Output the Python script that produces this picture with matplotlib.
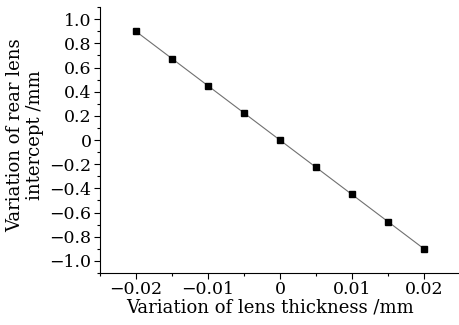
import matplotlib
matplotlib.use("Agg")
from matplotlib import pyplot as plt
from matplotlib.ticker import MultipleLocator, FuncFormatter

thickness = [-0.02, -0.015, -0.01, -0.005, 0.0, 0.005, 0.01, 0.015, 0.02]
intercept = [0.9, 0.675, 0.45, 0.225, 0.0, -0.225, -0.45, -0.675, -0.9]


def fmt_x(v, pos):
    if abs(v) < 1e-9:
        return "0"
    return ("%.2f" % v).replace("-", "\u2212")


def fmt_y(v, pos):
    if abs(v) < 1e-9:
        return "0"
    return ("%.1f" % v).replace("-", "\u2212")


def main():
    plt.rcParams["font.family"] = ["DejaVu Serif"]
    fig = plt.figure(figsize=(4.6, 3.25), dpi=100)
    ax = fig.add_axes([0.217, 0.16, 0.783, 0.818])

    ax.plot(thickness, intercept, color="#707070", linewidth=0.8,
            marker="s", markersize=4.2, markerfacecolor="black",
            markeredgecolor="black", zorder=3)

    ax.set_xlim(-0.025, 0.025)
    ax.set_ylim(-1.1, 1.1)
    ax.xaxis.set_major_locator(MultipleLocator(0.01))
    ax.xaxis.set_minor_locator(MultipleLocator(0.005))
    ax.yaxis.set_major_locator(MultipleLocator(0.2))
    ax.yaxis.set_minor_locator(MultipleLocator(0.1))
    ax.xaxis.set_major_formatter(FuncFormatter(fmt_x))
    ax.yaxis.set_major_formatter(FuncFormatter(fmt_y))

    ax.spines["top"].set_visible(False)
    ax.spines["right"].set_visible(False)
    ax.tick_params(which="major", direction="out", length=4, width=0.8,
                   labelsize=12.5, pad=2)
    ax.tick_params(which="minor", direction="out", length=2.5, width=0.8)

    ax.set_xlabel("Variation of lens thickness /mm", fontsize=13)
    ax.xaxis.set_label_coords(0.472, -0.095)
    ax.set_ylabel("Variation of rear lens\nintercept /mm", fontsize=13,
                  linespacing=1.1)
    ax.yaxis.set_label_coords(-0.155, 0.52)

    fig.savefig("out.png", dpi=100)


if __name__ == "__main__":
    main()
